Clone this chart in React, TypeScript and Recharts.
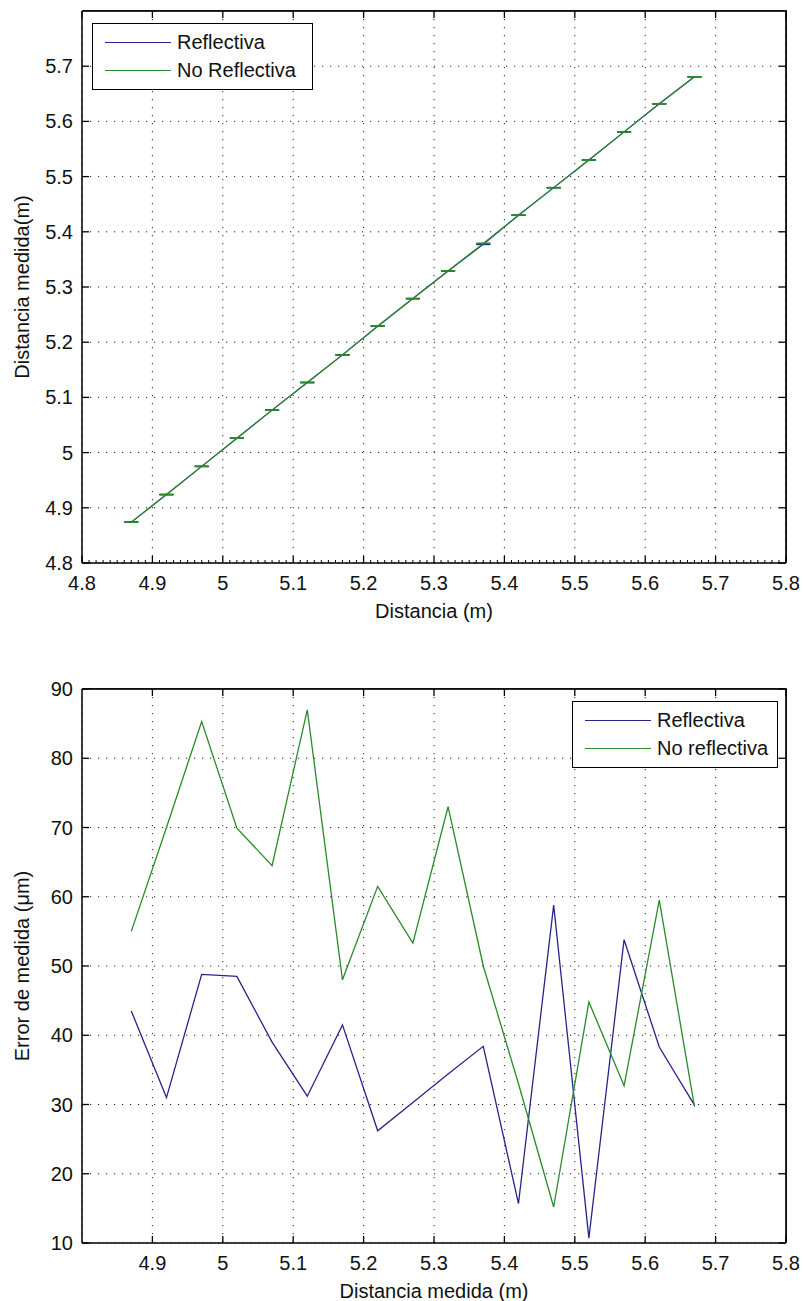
import { LineChart, Line, XAxis, YAxis, CartesianGrid, ErrorBar, Legend, Label } from 'recharts';

const distancia = [4.87, 4.92, 4.97, 5.02, 5.07, 5.12, 5.17, 5.22, 5.27, 5.32, 5.37, 5.42, 5.47, 5.52, 5.57, 5.62, 5.67];

// distancia medida (m)
const medidaReflectiva = [4.874, 4.924, 4.975, 5.026, 5.077, 5.127, 5.177, 5.229, 5.279, 5.329, 5.3772, 5.43, 5.48, 5.53, 5.581, 5.632, 5.681];
const medidaNoReflectiva = [4.874, 4.924, 4.975, 5.026, 5.077, 5.127, 5.177, 5.229, 5.279, 5.329, 5.379, 5.43, 5.48, 5.53, 5.581, 5.632, 5.681];

// error de medida (um)
const errorReflectiva = [43.5, 31, 48.8, 48.5, 39, 31.2, 41.5, 26.2, 30.3, 34.4, 38.4, 15.7, 58.8, 10.7, 53.8, 38.3, 29.9];
const errorNoReflectiva = [55, 70, 85.3, 69.9, 64.5, 87, 48, 61.5, 53.3, 73, 50, 33, 15.2, 44.8, 32.7, 59.5, 29.7];

const ticksDistancia = [4.8, 4.9, 5, 5.1, 5.2, 5.3, 5.4, 5.5, 5.6, 5.7, 5.8];
const ticksMedida = [4.8, 4.9, 5, 5.1, 5.2, 5.3, 5.4, 5.5, 5.6, 5.7];
const ticksDistanciaMedida = [4.9, 5, 5.1, 5.2, 5.3, 5.4, 5.5, 5.6, 5.7, 5.8];
const ticksError = [10, 20, 30, 40, 50, 60, 70, 80, 90];

const BLUE = '#25258c';
const GREEN = '#2a8a2a';
const FONT = '"Liberation Sans", Arial, sans-serif';
const FS = 20;

// both plots: 704 px wide; heights 552 and 554
const PLOT_W = 704;
const PLOT_H1 = 552;
const PLOT_H2 = 554;
const TICK = 7;
const MINOR = [1, 2, 3, 4, 5, 6, 7, 8, 9]; // 10 subdivisions on the first x axis

const medidaData = distancia.map((d, i) => ({
  d,
  r: medidaReflectiva[i],
  n: medidaNoReflectiva[i],
  er: errorReflectiva[i] * 1e-6,
  en: errorNoReflectiva[i] * 1e-6,
}));

const errorData = distancia.map((d, i) => ({
  d,
  r: errorReflectiva[i],
  n: errorNoReflectiva[i],
}));

const axisLine = { stroke: '#000', strokeWidth: 1.5 };

// bottom axis tick: label + inward tick on bottom and top edge (matlab box)
function BottomTick(props: any) {
  const { x, y, payload, plotHeight, minor, xMax } = props;
  const showMinor = minor && payload.value < xMax;
  return (
    <g>
      <line x1={x} y1={y} x2={x} y2={y - TICK} stroke="#000" strokeWidth={1.3} />
      <line x1={x} y1={y - plotHeight} x2={x} y2={y - plotHeight + TICK} stroke="#000" strokeWidth={1.3} />
      {showMinor &&
        MINOR.map((k) => (
          <line
            key={k}
            x1={x + (k * PLOT_W) / 100}
            y1={y}
            x2={x + (k * PLOT_W) / 100}
            y2={y - 3}
            stroke="#000"
            strokeWidth={1}
          />
        ))}
      <text x={x} y={y + 20} textAnchor="middle" dominantBaseline="central" fill="#111" fontSize={FS} fontFamily={FONT}>
        {payload.value}
      </text>
    </g>
  );
}

// left axis tick: label + inward tick on left and right edge
function LeftTick(props: any) {
  const { x, y, payload } = props;
  return (
    <g>
      <line x1={x} y1={y} x2={x + TICK} y2={y} stroke="#000" strokeWidth={1.3} />
      <line x1={x + PLOT_W} y1={y} x2={x + PLOT_W - TICK} y2={y} stroke="#000" strokeWidth={1.3} />
      <text x={x - 9} y={y} textAnchor="end" dominantBaseline="central" fill="#111" fontSize={FS} fontFamily={FONT}>
        {payload.value}
      </text>
    </g>
  );
}

// solid top and right edges of the box
function FrameGrid() {
  return (
    <CartesianGrid
      stroke="#000"
      strokeWidth={1.5}
      horizontalCoordinatesGenerator={(p: any) => [p.offset ? p.offset.top : 0]}
      verticalCoordinatesGenerator={(p: any) => [p.offset ? p.offset.left + p.offset.width : 0]}
    />
  );
}

function LegendBox({ items, width }: { items: { label: string; color: string }[]; width: number }) {
  return (
    <div
      style={{
        width,
        height: 67,
        boxSizing: 'border-box',
        border: '1px solid #000',
        background: '#fff',
        position: 'relative',
        fontFamily: FONT,
        fontSize: FS,
        color: '#111',
      }}
    >
      {items.map((it, i) => (
        <div
          key={it.label}
          style={{ position: 'absolute', left: 0, top: 6 + i * 28, height: 24, display: 'flex', alignItems: 'center' }}
        >
          <div style={{ marginLeft: 12, width: 66, borderTop: `1.5px solid ${it.color}` }} />
          <span style={{ marginLeft: 6, lineHeight: '24px', whiteSpace: 'nowrap' }}>{it.label}</span>
        </div>
      ))}
    </div>
  );
}

function YTitle(props: any) {
  const vb = props.viewBox || {};
  const cx = 22;
  const cy = vb.y + vb.height / 2;
  return (
    <text
      x={cx}
      y={cy}
      transform={`rotate(-90 ${cx} ${cy})`}
      textAnchor="middle"
      dominantBaseline="central"
      fill="#111"
      fontSize={FS}
      fontFamily={FONT}
    >
      {props.text}
    </text>
  );
}

function XTitle(props: any) {
  const vb = props.viewBox || {};
  return (
    <text
      x={vb.x + vb.width / 2}
      y={vb.y + 48}
      textAnchor="middle"
      dominantBaseline="central"
      fill="#111"
      fontSize={FS}
      fontFamily={FONT}
    >
      {props.text}
    </text>
  );
}

function MedidaChart() {
  return (
    <LineChart width={803} height={640} data={medidaData} margin={{ top: 11, right: 17, bottom: 17, left: 0 }}>
      <CartesianGrid stroke="#222" strokeDasharray="1.2 6.8" />
      <FrameGrid />
      <XAxis
        type="number"
        dataKey="d"
        domain={[4.8, 5.8]}
        ticks={ticksDistancia}
        height={60}
        axisLine={axisLine}
        tickLine={false}
        tickSize={0}
        tickMargin={0}
        tick={(p: any) => <BottomTick {...p} plotHeight={PLOT_H1} minor xMax={5.8} />}
        interval={0}
      >
        <Label content={(p: any) => <XTitle {...p} text="Distancia (m)" />} />
      </XAxis>
      <YAxis
        type="number"
        domain={[4.8, 5.8]}
        ticks={ticksMedida}
        width={82}
        axisLine={axisLine}
        tickLine={false}
        tickSize={0}
        tickMargin={0}
        tick={(p: any) => <LeftTick {...p} />}
        interval={0}
      >
        <Label content={(p: any) => <YTitle {...p} text="Distancia medida(m)" />} />
      </YAxis>
      <Line dataKey="r" name="Reflectiva" stroke={BLUE} strokeWidth={1.2} dot={false} isAnimationActive={false}>
        <ErrorBar dataKey="er" width={7} stroke={BLUE} strokeWidth={1.4} direction="y" />
      </Line>
      <Line dataKey="n" name="No Reflectiva" stroke={GREEN} strokeWidth={1.2} dot={false} isAnimationActive={false}>
        <ErrorBar dataKey="en" width={7} stroke={GREEN} strokeWidth={1.4} direction="y" />
      </Line>
      <Legend
        layout="vertical"
        align="center"
        verticalAlign="middle"
        wrapperStyle={{ left: 92, top: 23, width: 221 }}
        content={() => (
          <LegendBox
            width={221}
            items={[
              { label: 'Reflectiva', color: BLUE },
              { label: 'No Reflectiva', color: GREEN },
            ]}
          />
        )}
      />
    </LineChart>
  );
}

function ErrorChart() {
  return (
    <LineChart width={803} height={661} data={errorData} margin={{ top: 49, right: 17, bottom: 0, left: 0 }}>
      <CartesianGrid stroke="#222" strokeDasharray="1.2 6.8" />
      <FrameGrid />
      <XAxis
        type="number"
        dataKey="d"
        domain={[4.8, 5.8]}
        ticks={ticksDistanciaMedida}
        height={58}
        axisLine={axisLine}
        tickLine={false}
        tickSize={0}
        tickMargin={0}
        tick={(p: any) => <BottomTick {...p} plotHeight={PLOT_H2} xMax={5.8} />}
        interval={0}
      >
        <Label content={(p: any) => <XTitle {...p} text="Distancia medida (m)" />} />
      </XAxis>
      <YAxis
        type="number"
        domain={[10, 90]}
        ticks={ticksError}
        width={82}
        axisLine={axisLine}
        tickLine={false}
        tickSize={0}
        tickMargin={0}
        tick={(p: any) => <LeftTick {...p} />}
        interval={0}
      >
        <Label content={(p: any) => <YTitle {...p} text="Error de medida (μm)" />} />
      </YAxis>
      <Line dataKey="r" name="Reflectiva" stroke={BLUE} strokeWidth={1.3} dot={false} isAnimationActive={false} />
      <Line dataKey="n" name="No reflectiva" stroke={GREEN} strokeWidth={1.3} dot={false} isAnimationActive={false} />
      <Legend
        layout="vertical"
        align="center"
        verticalAlign="middle"
        wrapperStyle={{ left: 572, top: 61, width: 206 }}
        content={() => (
          <LegendBox
            width={206}
            items={[
              { label: 'Reflectiva', color: BLUE },
              { label: 'No reflectiva', color: GREEN },
            ]}
          />
        )}
      />
    </LineChart>
  );
}

// box edges (top/right) over each plot, as a plain border
function BoxEdge({ top, height }: { top: number; height: number }) {
  return (
    <div
      style={{
        position: 'absolute',
        left: 82,
        top,
        width: PLOT_W,
        height,
        boxSizing: 'border-box',
        borderTop: '1.5px solid #000',
        borderRight: '1.5px solid #000',
        pointerEvents: 'none',
        transform: 'translate(0.75px, -0.75px)',
      }}
    />
  );
}

export default function App() {
  return (
    <div style={{ position: 'absolute', left: 0, top: 0, width: 803, height: 1301, background: '#fff' }}>
      <div style={{ position: 'absolute', left: 0, top: 0 }}>
        <MedidaChart />
      </div>
      <div style={{ position: 'absolute', left: 0, top: 640 }}>
        <ErrorChart />
      </div>
      <BoxEdge top={11} height={PLOT_H1} />
      <BoxEdge top={689} height={PLOT_H2} />
    </div>
  );
}
